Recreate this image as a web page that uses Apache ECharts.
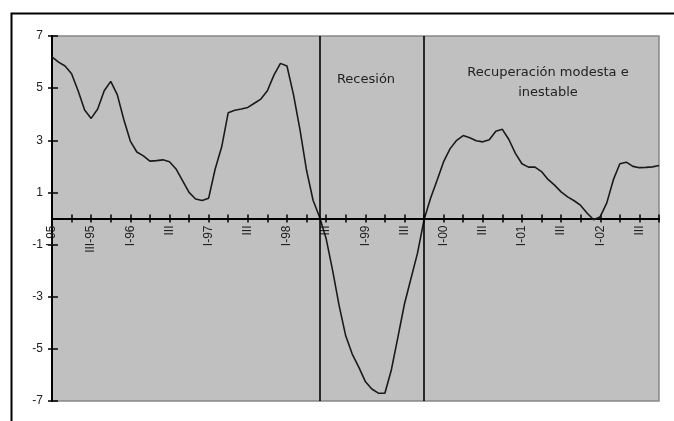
<!DOCTYPE html>
<html>
<head>
<meta charset="utf-8">
<script src="https://cdn.jsdelivr.net/npm/echarts@6/dist/echarts.min.js"></script>
<style>
html,body{margin:0;padding:0;background:#fff;}
#chart{width:674px;height:421px;}
</style>
</head>
<body>
<div id="chart"></div>
<script>
// Monthly categories, Jan 1995 .. Oct 2002
var months = [];
for (var y = 1995; y <= 2002; y++) {
  for (var m = 1; m <= 12; m++) {
    if (y === 2002 && m > 10) break;
    months.push(y + '-' + (m < 10 ? '0' + m : m));
  }
}
// Tick labels shown every 6 months
var tickLabels = ['I-95','III-95','I-96','III','I-97','III','I-98','III','I-99','III','I-00','III','I-01','III','I-02','III'];
// Series values
var values = [
  6.2, 6.0, 5.85, 5.55, 4.9, 4.16, 3.84, 4.2, 4.9, 5.26,
  4.75, 3.8, 2.97, 2.55, 2.4, 2.2, 2.22, 2.25, 2.18, 1.9,
  1.45, 1.0, 0.75, 0.69, 0.78, 1.9, 2.75, 4.06, 4.15, 4.2,
  4.26, 4.42, 4.58, 4.9, 5.5, 5.95, 5.85, 4.75, 3.4, 1.85,
  0.7, 0.05, -0.77, -2.0, -3.35, -4.5, -5.2, -5.7, -6.25, -6.54,
  -6.7, -6.7, -5.8, -4.55, -3.28, -2.3, -1.33, -0.05, 0.78, 1.47,
  2.18, 2.68, 3.0, 3.18, 3.1, 2.98, 2.94, 3.02, 3.35, 3.42,
  3.03, 2.5, 2.1, 1.97, 1.97, 1.8, 1.5, 1.28, 1.02, 0.83,
  0.68, 0.5, 0.2, -0.05, 0.07, 0.6, 1.48, 2.1, 2.16, 2.0,
  1.95, 1.96, 1.98, 2.03
];
// Period boundaries (recession start / end)
var periodLines = ['1998-06', '1999-10'];
var periodTexts = ['Recesión', 'Recuperación modesta e\ninestable'];

var chart = echarts.init(document.getElementById('chart'), null, {renderer: 'canvas'});
var txtColor = '#222';
var font = 'Liberation Sans, Arial, sans-serif';
var gridTop = 36, gridHeight = 365;

var option = {
  animation: false,
  backgroundColor: '#ffffff',
  grid: {
    left: 52, top: gridTop, width: 607, height: gridHeight,
    containLabel: false, outerBoundsMode: 'none',
    show: true, backgroundColor: '#c0c0c0',
    borderColor: '#868686', borderWidth: 1.5
  },
  xAxis: [{
    type: 'category', data: months, boundaryGap: false, position: 'bottom',
    offset: -gridHeight / 2,
    axisLine: {onZero: false, lineStyle: {color: '#000', width: 2}},
    axisTick: {show: true, inside: false, length: 4, lineStyle: {color: '#000', width: 1.5},
      interval: function (i) { return i % 3 === 0; }},
    axisLabel: {
      rotate: 90, margin: 7, fontSize: 12, color: txtColor, fontFamily: font,
      interval: function (i) { return i % 6 === 0; },
      formatter: function (v, i) { return tickLabels[i / 6] || ''; }
    },
    splitLine: {show: false}
  }, {
    type: 'category', data: months, boundaryGap: false, position: 'bottom',
    axisLine: {onZero: true, lineStyle: {color: '#000', width: 2}},
    axisTick: {show: true, inside: true, length: 4, lineStyle: {color: '#000', width: 1.5},
      interval: function (i) { return i % 3 === 0; }},
    axisLabel: {show: false},
    splitLine: {show: false}
  }],
  yAxis: [{
    type: 'value', min: -7, max: 7, interval: 2, position: 'left',
    axisLine: {show: true, onZero: false, lineStyle: {color: '#000', width: 2}},
    axisTick: {show: true, inside: false, length: 4, lineStyle: {color: '#000', width: 1.5}},
    axisLabel: {margin: 9, fontSize: 12, color: txtColor, fontFamily: font},
    splitLine: {show: false}
  }, {
    type: 'value', min: -7, max: 7, interval: 2, position: 'left',
    axisLine: {show: true, onZero: false, lineStyle: {color: '#000', width: 2}},
    axisTick: {show: true, inside: true, length: 6, lineStyle: {color: '#000', width: 1.5}},
    axisLabel: {show: false},
    splitLine: {show: false}
  }],
  series: [{
    type: 'line', data: values, xAxisIndex: 0, yAxisIndex: 0,
    showSymbol: false, symbol: 'none',
    lineStyle: {color: '#1a1a1a', width: 1.6},
    markLine: {
      silent: true, symbol: ['none', 'none'],
      label: {show: false},
      lineStyle: {color: '#000', width: 1.6, type: 'solid'},
      data: periodLines.map(function (p) { return {xAxis: p}; })
    }
  }],
  graphic: [
    {type: 'rect', left: 9, top: 11, silent: true,
     shape: {x: 0, y: 0, width: 720, height: 460},
     style: {fill: 'none', stroke: '#000', lineWidth: 2}},
    {type: 'text', x: 366, y: 80, silent: true,
     style: {text: periodTexts[0], fill: txtColor, font: '13px DejaVu Sans', textAlign: 'center', textVerticalAlign: 'middle'}},
    {type: 'text', x: 548, y: 83, silent: true,
     style: {text: periodTexts[1], fill: txtColor, font: '13px DejaVu Sans', textAlign: 'center', textVerticalAlign: 'middle', lineHeight: 20}}
  ]
};
chart.setOption(option);
</script>
</body>
</html>
